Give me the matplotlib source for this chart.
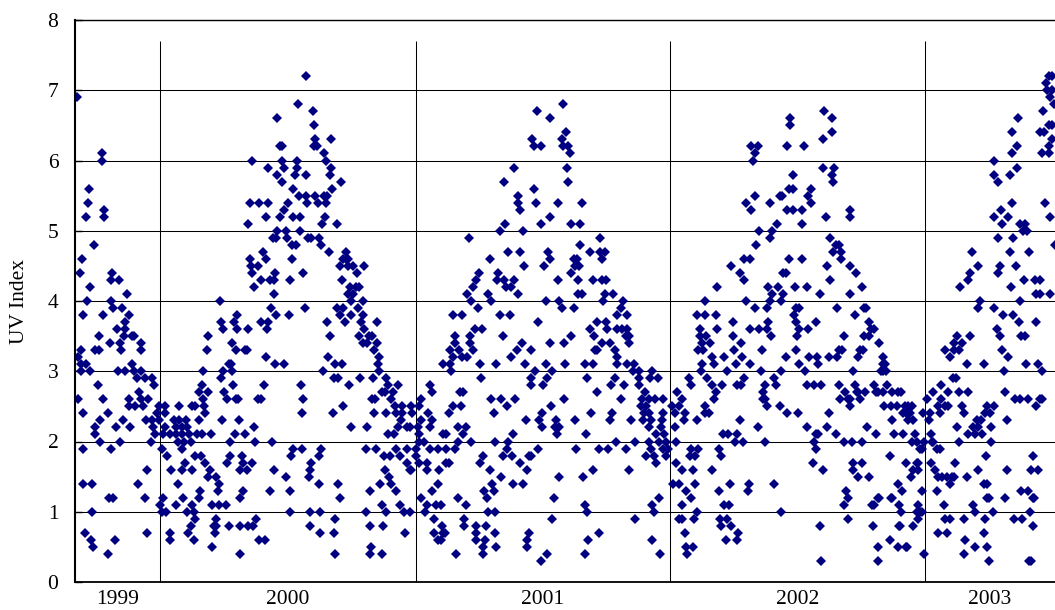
import numpy as np
import matplotlib
matplotlib.use("Agg")
import matplotlib.pyplot as plt
import matplotlib.dates as mdates

plt.rcParams['font.family'] = ['Liberation Serif', 'DejaVu Serif']

# daily UV index readings: (day of year, UV index)
obs_1999 = [
    (246, 6.9), (281, 6.1), (282, 6.0), (263, 5.6), (262, 5.4), (259, 5.2), (285, 5.3), (284, 5.2),
    (270, 4.8), (253, 4.6), (250, 4.4), (296, 4.4), (295, 4.3), (306, 4.3), (265, 4.2), (317, 4.1),
    (260, 4.0), (295, 4.0), (298, 3.9), (310, 3.9), (254, 3.8), (283, 3.8), (320, 3.8), (315, 3.7),
    (303, 3.6), (314, 3.6), (278, 3.5), (313, 3.5), (324, 3.5), (328, 3.5), (293, 3.4), (308, 3.4),
    (337, 3.4), (251, 3.3), (271, 3.3), (278, 3.3), (309, 3.3), (337, 3.3), (247, 3.2), (251, 3.1),
    (259, 3.1), (324, 3.1), (252, 3.0), (264, 3.0), (305, 3.0), (315, 3.0), (327, 3.0), (337, 3.0),
    (332, 2.9), (344, 2.9), (353, 2.9), (276, 2.8), (356, 2.8), (334, 2.7), (247, 2.6), (283, 2.6),
    (321, 2.6), (337, 2.6), (348, 2.6), (320, 2.5), (329, 2.5), (341, 2.5), (363, 2.5), (254, 2.4),
    (290, 2.4), (361, 2.4), (279, 2.3), (312, 2.3), (345, 2.3), (353, 2.3), (363, 2.3), (272, 2.2),
    (302, 2.2), (322, 2.2), (355, 2.2), (272, 2.1), (358, 2.1), (279, 2.0), (308, 2.0), (352, 2.0),
    (255, 1.9), (294, 1.9), (346, 1.6), (255, 1.4), (268, 1.4), (333, 1.4), (291, 1.2), (298, 1.2),
    (343, 1.2), (267, 1.0), (258, 0.7), (346, 0.7), (266, 0.6), (300, 0.6), (269, 0.5), (290, 0.4),
]

obs_2000 = [
    # Jan - May
    (131, 6.0), (128, 5.4), (141, 5.4), (126, 5.1), (128, 4.6), (140, 4.5), (130, 4.5), (132, 4.4),
    (135, 4.2), (86, 4.0), (87, 3.7), (106, 3.7), (110, 3.8), (144, 3.7),
    (90, 3.6), (110, 3.6), (126, 3.6), (68, 3.5), (103, 3.4), (67, 3.3), (108, 3.3), (121, 3.3),
    (124, 3.3), (98, 3.1), (101, 3.1), (62, 3.0), (90, 3.0), (103, 3.0), (87, 2.9), (60, 2.8),
    (104, 2.8), (55, 2.7), (69, 2.7), (92, 2.7), (62, 2.6), (96, 2.6), (108, 2.6), (112, 2.6),
    (140, 2.6), (7, 2.5), (27, 2.5), (45, 2.5), (50, 2.5), (63, 2.5), (7, 2.4), (64, 2.4),
    (20, 2.3), (27, 2.3), (37, 2.3), (55, 2.3), (88, 2.3), (113, 2.3), (7, 2.2), (22, 2.2),
    (32, 2.2), (39, 2.2), (135, 2.2), (4, 2.1), (14, 2.1), (23, 2.1), (32, 2.1), (41, 2.1),
    (53, 2.1), (60, 2.1), (73, 2.1), (107, 2.1), (122, 2.1), (25, 2.0), (34, 2.0), (44, 2.0),
    (100, 2.0), (136, 2.0), (2, 1.9), (32, 1.9), (10, 1.8), (50, 1.8), (58, 1.8), (100, 1.8),
    (117, 1.8), (36, 1.7), (64, 1.7), (96, 1.7), (119, 1.7), (132, 1.7), (16, 1.6), (31, 1.6),
    (46, 1.6), (71, 1.6), (115, 1.6), (124, 1.6), (69, 1.5), (80, 1.5), (25, 1.4), (85, 1.4),
    (57, 1.3), (83, 1.3), (119, 1.3), (4, 1.2), (33, 1.2), (56, 1.2), (114, 1.2), (0, 1.1),
    (23, 1.1), (45, 1.1), (74, 1.1), (85, 1.1), (94, 1.1), (2, 1.0), (9, 1.0), (39, 1.0),
    (48, 1.0), (50, 0.9), (80, 0.9), (138, 0.9), (44, 0.8), (77, 0.8), (80, 0.8), (98, 0.8),
    (115, 0.8), (126, 0.8), (133, 0.8), (14, 0.7), (40, 0.7), (78, 0.7), (14, 0.6), (49, 0.6),
    (142, 0.6), (74, 0.5), (115, 0.4),
    # May - Dec
    (209, 7.2), (198, 6.8), (219, 6.7), (168, 6.6), (220, 6.5), (222, 6.3), (245, 6.3), (171, 6.2),
    (174, 6.2), (221, 6.2), (224, 6.2), (235, 6.1), (175, 6.0), (196, 6.0), (237, 6.0), (154, 5.9),
    (178, 5.9), (196, 5.9), (245, 5.9), (168, 5.8), (193, 5.8), (209, 5.8), (243, 5.8), (174, 5.7),
    (259, 5.7), (191, 5.6), (246, 5.6), (199, 5.5), (209, 5.5), (222, 5.5), (235, 5.5), (239, 5.5),
    (183, 5.4), (211, 5.4), (226, 5.4), (238, 5.4), (154, 5.4), (177, 5.3), (152, 5.2), (172, 5.2),
    (191, 5.2), (200, 5.2), (236, 5.2), (232, 5.1), (253, 5.1), (168, 5.0), (180, 5.0), (200, 5.0),
    (161, 4.9), (166, 4.9), (182, 4.9), (212, 4.9), (216, 4.9), (227, 4.9), (189, 4.8), (195, 4.8),
    (231, 4.8), (147, 4.7), (242, 4.7), (266, 4.7), (151, 4.6), (189, 4.6), (266, 4.6), (262, 4.6),
    (269, 4.6), (258, 4.5), (276, 4.5), (292, 4.5), (269, 4.5), (165, 4.4), (205, 4.4), (282, 4.4),
    (145, 4.3), (157, 4.3), (163, 4.3), (186, 4.3), (260, 4.3), (281, 4.2), (285, 4.2), (272, 4.2),
    (163, 4.1), (269, 4.1), (276, 4.1), (274, 4.0), (290, 4.0), (159, 3.9), (207, 3.9), (253, 3.9),
    (262, 3.9), (283, 3.9), (166, 3.8), (184, 3.8), (258, 3.8), (274, 3.8), (291, 3.8), (154, 3.7),
    (239, 3.7), (265, 3.7), (288, 3.7), (310, 3.7),
    (153, 3.6), (292, 3.6), (243, 3.5), (285, 3.5), (299, 3.5), (304, 3.5), (290, 3.4), (297, 3.4),
    (311, 3.4), (306, 3.3), (151, 3.2), (241, 3.2), (313, 3.2), (164, 3.1), (177, 3.1), (251, 3.1),
    (260, 3.1), (312, 3.1), (233, 3.0), (314, 3.0), (249, 2.9), (255, 2.9), (287, 2.9), (305, 2.9),
    (324, 2.9), (149, 2.8), (202, 2.8), (271, 2.8), (327, 2.8), (341, 2.8), (318, 2.7), (322, 2.7),
    (334, 2.7), (145, 2.6), (204, 2.6), (303, 2.6), (308, 2.6), (331, 2.6), (262, 2.5), (336, 2.5),
    (347, 2.5), (360, 2.5), (203, 2.4), (247, 2.4), (307, 2.4), (324, 2.4), (338, 2.4), (347, 2.4),
    (361, 2.4), (345, 2.3), (274, 2.2), (297, 2.2), (341, 2.2), (354, 2.2), (358, 2.2), (326, 2.1),
    (335, 2.1), (160, 2.0), (191, 1.9), (203, 1.9), (230, 1.9), (295, 1.9), (309, 1.9), (338, 1.9),
    (354, 1.9), (187, 1.8), (228, 1.8), (320, 1.8), (329, 1.8), (343, 1.8), (216, 1.7), (354, 1.7),
    (163, 1.6), (215, 1.6), (322, 1.6), (358, 1.6), (359, 1.6), (180, 1.5), (213, 1.5), (328, 1.5),
    (227, 1.4), (255, 1.4), (315, 1.4), (331, 1.4), (158, 1.3), (186, 1.3), (300, 1.3), (338, 1.3),
    (257, 1.2), (318, 1.1), (343, 1.1), (186, 1.0), (214, 1.0), (229, 1.0), (295, 1.0), (323, 1.0),
    (350, 1.0), (358, 1.0), (251, 0.9), (214, 0.8), (301, 0.8), (319, 0.8), (229, 0.7), (249, 0.7),
    (351, 0.7), (150, 0.6), (302, 0.5), (250, 0.4), (301, 0.4), (318, 0.4),
]

obs_2001 = [
    (49, 3.3), (39, 3.1), (49, 3.1), (50, 3.0), (20, 2.8), (23, 2.7), (8, 2.6), (5, 2.5),
    (18, 2.4), (48, 2.4), (8, 2.3), (24, 2.3), (4, 2.2), (20, 2.2), (39, 2.1), (44, 2.1),
    (5, 2.1), (5, 2.0), (12, 2.0), (0, 1.9), (20, 1.9), (32, 1.9), (43, 1.9), (0, 1.8),
    (5, 1.7), (17, 1.7), (44, 1.7), (48, 1.7), (16, 1.6), (34, 1.6), (32, 1.4), (24, 1.3),
    (8, 1.2), (17, 1.1), (29, 1.1), (37, 1.1), (13, 1.0), (27, 0.9), (38, 0.8), (26, 0.7),
    (39, 0.7), (42, 0.7), (32, 0.6), (36, 0.6),
    (211, 6.8), (174, 6.7), (192, 6.6), (216, 6.4), (167, 6.3), (210, 6.3), (170, 6.2), (179, 6.2),
    (211, 6.2), (219, 6.2), (221, 6.1), (217, 5.9), (141, 5.9), (126, 5.7), (218, 5.7), (169, 5.6),
    (147, 5.5), (146, 5.4), (172, 5.4), (204, 5.4), (238, 5.4), (150, 5.3), (192, 5.2), (128, 5.1),
    (179, 5.1), (222, 5.1), (235, 5.1), (121, 5.0), (154, 5.0), (76, 4.9), (264, 4.9), (236, 4.8),
    (133, 4.7), (149, 4.7), (189, 4.7), (250, 4.7), (264, 4.7), (272, 4.7), (107, 4.6), (193, 4.6),
    (227, 4.6), (231, 4.6), (267, 4.6), (155, 4.5), (184, 4.5), (234, 4.5), (228, 4.5), (91, 4.4),
    (118, 4.4), (223, 4.4), (87, 4.3), (116, 4.3), (126, 4.3), (141, 4.3), (204, 4.3), (233, 4.3),
    (254, 4.3), (267, 4.3), (273, 4.3), (82, 4.2), (129, 4.2), (136, 4.2), (74, 4.1), (103, 4.1),
    (147, 4.1), (233, 4.1), (238, 4.1), (272, 4.1), (283, 4.1), (80, 4.0), (108, 4.0), (187, 4.0),
    (206, 4.0), (297, 4.0), (269, 4.0), (89, 3.9), (209, 3.9), (227, 3.9), (294, 3.9), (53, 3.8),
    (66, 3.8), (121, 3.8), (135, 3.8), (289, 3.8), (303, 3.8), (176, 3.7), (260, 3.7), (273, 3.7),
    (85, 3.6), (95, 3.6), (250, 3.6), (274, 3.6), (289, 3.6), (296, 3.6), (303, 3.6), (56, 3.5),
    (78, 3.5), (125, 3.5), (223, 3.5), (256, 3.5), (301, 3.5), (306, 3.5), (56, 3.4), (78, 3.4),
    (153, 3.4), (193, 3.4), (213, 3.4), (267, 3.4), (279, 3.4), (306, 3.4), (62, 3.3), (82, 3.3),
    (145, 3.3), (165, 3.3), (257, 3.3), (260, 3.3), (286, 3.3), (53, 3.2), (66, 3.2), (74, 3.2),
    (137, 3.2), (289, 3.2), (92, 3.1), (115, 3.1), (157, 3.1), (187, 3.1), (214, 3.1), (243, 3.1),
    (254, 3.1), (289, 3.1), (303, 3.1), (313, 3.1), (171, 3.0), (196, 3.0), (312, 3.0), (320, 3.0),
    (94, 2.9), (166, 2.9), (188, 2.9), (246, 2.9), (285, 2.9), (320, 2.9), (336, 2.9), (166, 2.8),
    (183, 2.8), (280, 2.8), (299, 2.8), (320, 2.8), (63, 2.7), (68, 2.7), (260, 2.7), (329, 2.7),
    (108, 2.6), (123, 2.6), (143, 2.6), (212, 2.6), (294, 2.6), (325, 2.6), (53, 2.5), (65, 2.5),
    (131, 2.5), (194, 2.5), (323, 2.5), (330, 2.5), (112, 2.4), (181, 2.4), (251, 2.4), (281, 2.4),
    (327, 2.4), (158, 2.3), (177, 2.3), (201, 2.3), (228, 2.3), (279, 2.3), (308, 2.3), (326, 2.3),
    (60, 2.2), (72, 2.2), (181, 2.2), (199, 2.2), (206, 2.2), (68, 2.1), (140, 2.1), (202, 2.1),
    (244, 2.1), (60, 2.0), (80, 2.0), (114, 2.0), (132, 2.0), (287, 2.0), (315, 2.0), (57, 1.9),
    (131, 1.9), (176, 1.9), (230, 1.9), (262, 1.9), (276, 1.9), (301, 1.9), (96, 1.8), (125, 1.8),
    (138, 1.8), (162, 1.8), (165, 1.8), (330, 1.8), (92, 1.7), (150, 1.7), (106, 1.6), (160, 1.6),
    (254, 1.6), (306, 1.6), (123, 1.5), (206, 1.5), (240, 1.5), (109, 1.4), (139, 1.4), (154, 1.4),
    (98, 1.3), (112, 1.3), (60, 1.2), (102, 1.2), (198, 1.2), (72, 1.1), (243, 1.1), (104, 1.0),
    (113, 1.0), (246, 1.0), (69, 0.9), (196, 0.9), (315, 0.9), (70, 0.8), (87, 0.8), (101, 0.8),
    (87, 0.7), (113, 0.7), (163, 0.7), (263, 0.7), (86, 0.6), (99, 0.6), (160, 0.6), (247, 0.6),
    (97, 0.5), (115, 0.5), (159, 0.5), (58, 0.4), (96, 0.4), (188, 0.4), (242, 0.4), (179, 0.3),
    (338, 3.0), (347, 2.9), (334, 2.6), (343, 2.6), (354, 2.6), (334, 2.4), (354, 2.4), (337, 2.3),
    (353, 2.3), (334, 2.2), (351, 2.2), (344, 2.1), (356, 2.1), (334, 2.0), (349, 2.0), (359, 2.0),
    (337, 1.9), (354, 1.9), (361, 1.9), (342, 1.8), (359, 1.8), (344, 1.7), (348, 1.2), (338, 1.1),
    (342, 1.0), (339, 0.6), (350, 0.4),
]

obs_2002 = [
    (220, 6.7), (232, 6.6), (172, 6.6), (172, 6.5), (231, 6.4), (219, 6.3), (115, 6.2), (125, 6.2),
    (167, 6.2), (192, 6.2), (121, 6.1), (118, 6.0), (219, 5.9), (235, 5.9), (176, 5.8), (231, 5.8),
    (233, 5.7), (170, 5.6), (175, 5.6), (202, 5.6), (157, 5.5), (160, 5.5), (121, 5.5), (197, 5.5),
    (109, 5.4), (143, 5.4), (201, 5.4), (115, 5.3), (167, 5.3), (175, 5.3), (189, 5.3), (258, 5.3),
    (223, 5.2), (257, 5.2), (153, 5.1), (189, 5.1), (127, 5.0), (145, 5.0), (143, 4.9), (228, 4.9),
    (122, 4.8), (237, 4.8), (241, 4.8), (233, 4.7), (245, 4.7), (106, 4.6), (114, 4.6), (170, 4.6),
    (188, 4.6), (245, 4.6), (87, 4.5), (225, 4.5), (258, 4.5), (99, 4.4), (162, 4.4), (166, 4.4),
    (266, 4.4), (106, 4.3), (228, 4.3), (67, 4.2), (140, 4.2), (154, 4.2), (179, 4.2), (195, 4.2),
    (274, 4.2), (145, 4.1), (162, 4.1), (214, 4.1), (258, 4.1), (50, 4.0), (109, 4.0), (143, 4.0),
    (159, 4.0), (121, 3.9), (139, 3.9), (180, 3.9), (184, 3.9), (239, 3.9), (277, 3.9), (280, 3.9),
    (38, 3.8), (50, 3.8), (65, 3.8), (177, 3.8), (265, 3.8), (89, 3.7), (140, 3.7), (180, 3.7),
    (209, 3.7), (284, 3.7),
    (42, 3.6), (67, 3.6), (114, 3.6), (127, 3.6), (138, 3.6), (184, 3.6), (197, 3.6), (43, 3.5),
    (51, 3.5), (89, 3.5), (144, 3.5), (182, 3.5), (249, 3.5), (45, 3.4), (57, 3.4), (101, 3.4),
    (40, 3.3), (47, 3.3), (91, 3.3), (131, 3.3), (180, 3.3), (241, 3.3), (246, 3.3), (59, 3.2),
    (77, 3.2), (102, 3.2), (165, 3.2), (199, 3.2), (210, 3.2), (238, 3.2), (227, 3.2), (45, 3.1),
    (62, 3.1), (94, 3.1), (114, 3.1), (184, 3.1), (212, 3.1), (44, 3.0), (81, 3.0), (130, 3.0),
    (159, 3.0), (193, 3.0), (27, 2.9), (52, 2.9), (106, 2.9), (148, 2.9), (29, 2.8), (60, 2.8),
    (74, 2.8), (95, 2.8), (101, 2.8), (136, 2.8), (151, 2.8), (196, 2.8), (206, 2.8), (216, 2.8),
    (241, 2.8), (10, 2.7), (65, 2.7), (132, 2.7), (250, 2.7), (17, 2.6), (63, 2.6), (133, 2.6),
    (136, 2.6), (243, 2.6), (254, 2.6), (3, 2.5), (13, 2.5), (50, 2.5), (138, 2.5), (157, 2.5),
    (257, 2.5), (6, 2.4), (21, 2.4), (49, 2.4), (55, 2.4), (167, 2.4), (183, 2.4), (227, 2.4),
    (20, 2.3), (38, 2.3), (99, 2.3), (6, 2.2), (126, 2.2), (196, 2.2), (225, 2.2), (76, 2.1),
    (83, 2.1), (95, 2.1), (208, 2.1), (211, 2.1), (237, 2.1), (8, 2.0), (92, 2.0), (104, 2.0),
    (135, 2.0), (206, 2.0), (249, 2.0), (30, 1.9), (40, 1.9), (69, 1.9), (208, 1.9), (28, 1.8),
    (35, 1.8), (73, 1.8), (8, 1.7), (204, 1.7), (16, 1.6), (32, 1.6), (59, 1.6), (218, 1.6),
    (4, 1.4), (12, 1.4), (35, 1.4), (85, 1.4), (113, 1.4), (149, 1.4), (22, 1.3), (69, 1.3),
    (111, 1.3), (252, 1.3), (29, 1.2), (254, 1.2), (17, 1.1), (77, 1.1), (84, 1.1), (249, 1.1),
    (38, 1.0), (158, 1.0), (12, 0.9), (16, 0.9), (34, 0.9), (71, 0.9), (81, 0.9), (254, 0.9),
    (72, 0.8), (87, 0.8), (214, 0.8), (21, 0.7), (97, 0.7), (79, 0.6), (96, 0.6), (23, 0.5),
    (33, 0.5), (24, 0.4), (216, 0.3),
    (287, 3.6), (292, 3.6), (278, 3.5), (285, 3.5), (299, 3.4), (272, 3.3), (269, 3.2), (276, 3.3),
    (304, 3.2), (304, 3.1), (308, 3.1), (302, 3.0), (309, 3.0), (304, 3.0), (261, 3.0), (264, 2.8),
    (269, 2.7), (279, 2.7), (292, 2.8), (294, 2.7), (298, 2.7), (304, 2.7), (311, 2.8), (318, 2.7),
    (326, 2.7), (331, 2.7), (258, 2.6), (272, 2.6), (267, 2.7), (306, 2.5), (316, 2.5), (324, 2.5),
    (336, 2.5), (341, 2.5), (346, 2.5), (333, 2.4), (343, 2.4), (362, 2.4), (318, 2.3), (321, 2.1),
    (348, 2.3), (341, 2.3), (282, 2.2), (294, 2.1), (338, 2.4), (333, 2.1), (346, 2.0), (350, 2.1),
    (353, 2.0), (260, 2.0), (274, 2.0), (363, 2.0), (360, 1.9), (314, 1.8), (358, 1.9), (262, 1.7),
    (275, 1.7), (337, 1.7), (353, 1.7), (355, 1.7), (348, 1.6), (345, 1.5), (262, 1.6), (269, 1.5),
    (285, 1.5), (355, 1.6), (326, 1.4), (332, 1.3), (360, 1.3), (297, 1.2), (299, 1.2), (316, 1.2),
    (318, 1.2), (289, 1.1), (292, 1.1), (328, 1.1), (331, 1.0), (355, 1.1), (358, 1.0), (353, 1.0),
    (360, 1.0), (290, 0.8), (328, 0.8), (329, 0.8), (348, 0.8), (355, 0.9), (315, 0.6), (326, 0.5),
    (337, 0.5), (339, 0.5), (298, 0.5), (297, 0.3), (364, 0.4),
]

obs_2003 = [
    (177, 7.2), (181, 7.2), (173, 7.1), (174, 7.0), (181, 7.0), (179, 6.9), (184, 6.8), (169, 6.7),
    (177, 6.5), (182, 6.5), (164, 6.4), (170, 6.4), (133, 6.6), (124, 6.4), (181, 6.3), (131, 6.2),
    (124, 6.1), (177, 6.2), (178, 6.1), (168, 6.1), (99, 6.0), (132, 5.9), (121, 5.8), (99, 5.8),
    (104, 5.7), (125, 5.4), (171, 5.4), (108, 5.3), (99, 5.2), (110, 5.1), (118, 5.2), (179, 5.2),
    (136, 5.1), (143, 5.1), (140, 5.0), (146, 5.0), (104, 4.9), (126, 4.9), (67, 4.7), (121, 4.7),
    (149, 4.7), (186, 4.8), (76, 4.5), (64, 4.4), (107, 4.5), (130, 4.5), (105, 4.4), (62, 4.3),
    (142, 4.3), (157, 4.3), (165, 4.3), (50, 4.2), (123, 4.2), (159, 4.1), (165, 4.1), (179, 4.1),
    (78, 4.0), (136, 4.0), (98, 3.9), (76, 3.9), (111, 3.8), (126, 3.8), (135, 3.7), (159, 3.7),
    (45, 3.5), (64, 3.5), (103, 3.6), (107, 3.5), (138, 3.5), (143, 3.5), (29, 3.3), (41, 3.4),
    (53, 3.4), (49, 3.3), (41, 3.3), (35, 3.2), (110, 3.3), (119, 3.2), (84, 3.1), (145, 3.1),
    (162, 3.1), (60, 3.1), (113, 3.0), (168, 3.0), (22, 2.8), (40, 2.9), (44, 2.9), (11, 2.7),
    (22, 2.6), (32, 2.7), (48, 2.7), (61, 2.7), (115, 2.7), (129, 2.6), (136, 2.6), (147, 2.6),
    (167, 2.6), (164, 2.6), (159, 2.5), (19, 2.5), (29, 2.5), (33, 2.5), (21, 2.4), (53, 2.5),
    (55, 2.4), (45, 2.2), (76, 2.2), (80, 2.3), (85, 2.4), (89, 2.5), (99, 2.5), (93, 2.4),
    (117, 2.3), (74, 2.3), (68, 2.2), (62, 2.1), (95, 2.2), (81, 2.1), (72, 2.1), (21, 1.9),
    (17, 1.9), (10, 2.0), (49, 2.0), (94, 2.0), (87, 1.8), (155, 1.8), (8, 1.7), (14, 1.6),
    (18, 1.5), (24, 1.5), (31, 1.5), (38, 1.5), (42, 1.5), (36, 1.4), (43, 1.7), (60, 1.5),
    (75, 1.6), (117, 1.6), (152, 1.6), (161, 1.6), (17, 1.3), (84, 1.4), (89, 1.4), (92, 1.2),
    (88, 1.2), (115, 1.2), (138, 1.3), (148, 1.3), (154, 1.2), (156, 1.2), (27, 1.1), (29, 0.9),
    (36, 0.9), (69, 1.1), (72, 1.0), (97, 1.0), (86, 0.9), (84, 0.7), (56, 0.9), (127, 0.9),
    (139, 0.9), (150, 1.0), (154, 0.8), (18, 0.7), (31, 0.7), (57, 0.6), (72, 0.5), (56, 0.4),
    (88, 0.5), (92, 0.3), (149, 0.3), (152, 0.3), (2, 2.6), (7, 2.4), (6, 2.3), (8, 2.1),
    (11, 2.0),
]

year_obs = {1999: obs_1999, 2000: obs_2000, 2001: obs_2001, 2002: obs_2002, 2003: obs_2003}
x_start = np.datetime64('1999-09-01')
x_end = np.datetime64('2003-07-06')
year_labels = ['1999', '2000', '2001', '2002', '2003']


def to_dates(year, pairs):
    days = np.array([d for d, _ in pairs], dtype='timedelta64[D]')
    uv = np.array([v for _, v in pairs])
    return np.datetime64(f'{year}-01-01') + days, uv


fig = plt.figure(figsize=(10.55, 6.10), dpi=100)
ax = fig.add_axes([75 / 1055, 28 / 610, 980 / 1055, 562 / 610])

for year, pairs in year_obs.items():
    dates, uv = to_dates(year, pairs)
    ax.plot(dates, uv, linestyle='none', marker='D', ms=5.0,
            mfc='#000080', mec='#000080', mew=0)

ax.set_xlim(mdates.date2num(x_start), mdates.date2num(x_end))
ax.set_ylim(0, 8)

# horizontal grid at every whole UV step
ax.set_yticks(range(9))
ax.yaxis.grid(True, color='black', lw=0.75)
ax.set_axisbelow(True)
ax.tick_params(axis='y', direction='in', length=5, width=1.0, pad=12, labelsize=15.5)

# year separators
bounds = [np.datetime64(f'{y}-01-01') for y in range(2000, 2004)]
ax.vlines([mdates.date2num(b) for b in bounds], 0, 7.7, color='black', lw=0.75, zorder=0.5)

# year labels centred in the visible part of each year
edges = [x_start] + bounds + [x_end]
mids = [mdates.date2num(a) + (mdates.date2num(b) - mdates.date2num(a)) / 2
        for a, b in zip(edges[:-1], edges[1:])]
ax.set_xticks(mids)
ax.set_xticklabels(year_labels)
ax.tick_params(axis='x', length=0, pad=6, labelsize=15.5)

ax.spines['right'].set_visible(False)
ax.spines['left'].set_linewidth(1.5)
ax.spines['bottom'].set_linewidth(1.3)
ax.spines['top'].set_linewidth(1.0)

fig.text(20 / 1055, 1 - 301 / 610, 'UV Index', rotation=90, ha='center', va='center', fontsize=15.5)

fig.savefig('out.png', dpi=100)
